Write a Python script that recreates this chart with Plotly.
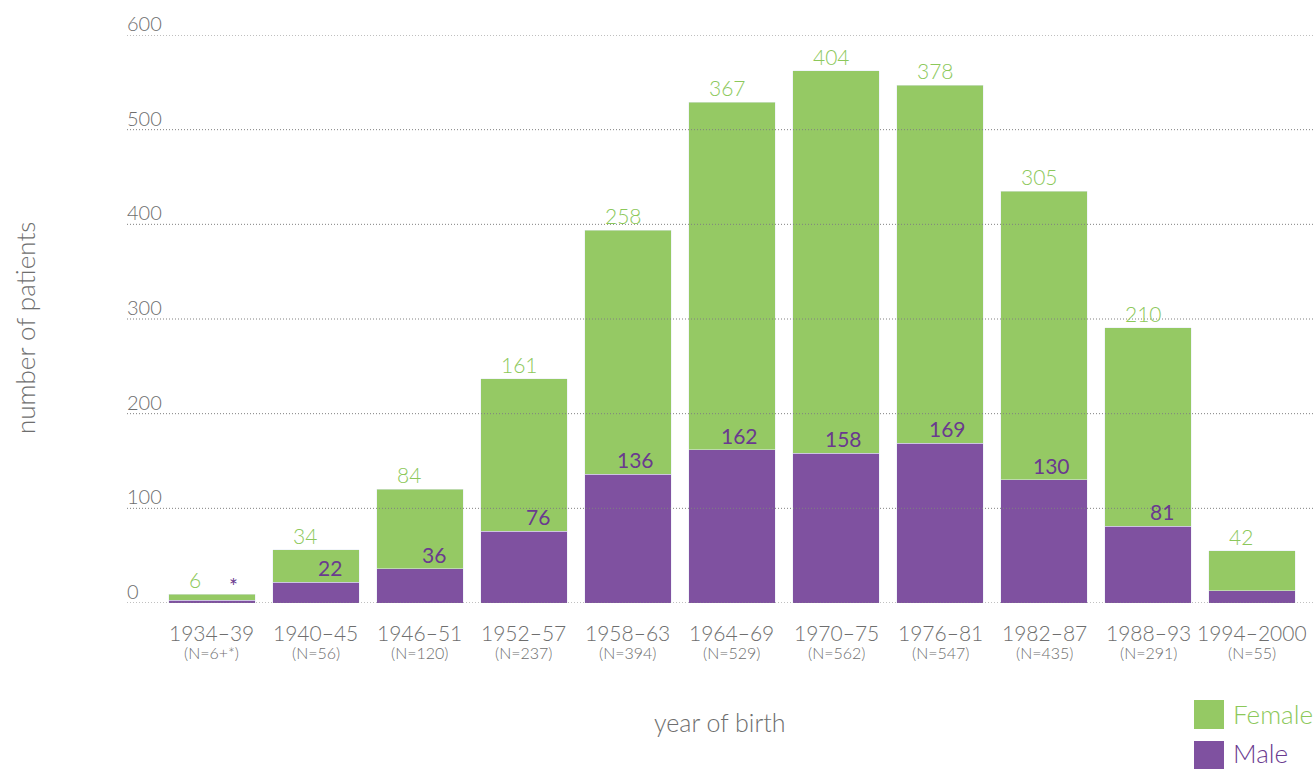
import plotly.graph_objects as go

# Birth-cohort categories and patient counts
cohorts = ["1934–39", "1940–45", "1946–51", "1952–57", "1958–63", "1964–69",
           "1970–75", "1976–81", "1982–87", "1988–93", "1994–2000"]
cohort_n = ["(N=6+*)", "(N=56)", "(N=120)", "(N=237)", "(N=394)", "(N=529)",
            "(N=562)", "(N=547)", "(N=435)", "(N=291)", "(N=55)"]
male = [3, 22, 36, 76, 136, 162, 158, 169, 130, 81, 13]
female = [6, 34, 84, 161, 258, 367, 404, 378, 305, 210, 42]
male_labels = ["*", "22", "36", "76", "136", "162", "158", "169", "130", "81", ""]
female_labels = [str(v) for v in female]
y_ticks = [0, 100, 200, 300, 400, 500, 600]

GREEN = "#95c964"
PURPLE = "#7f51a0"
GREEN_TXT = "#8cc85a"
PURPLE_TXT = "#6a3a8f"
GREY_TXT = "#6e6e6e"
FONT = "Lato"

W, H = 1314, 769
M_L, M_R, M_T, M_B = 127, 0, 35, 166
PLOT_W = W - M_L - M_R
PLOT_H = H - M_T - M_B


def px_x(px):
    """Pixel column -> paper x (paper spans the plot area)."""
    return (px - M_L) / PLOT_W


def px_y(py):
    """Pixel row (from top) -> paper y."""
    return (H - M_B - py) / PLOT_H


x_idx = list(range(len(cohorts)))
totals = [m + f for m, f in zip(male, female)]

fig = go.Figure()
fig.add_trace(go.Bar(x=x_idx, y=male, name="Male", marker_color=PURPLE,
                     width=0.83, showlegend=False))
fig.add_trace(go.Bar(x=x_idx, y=female, name="Female", marker_color=GREEN,
                     width=0.83, showlegend=False))

annotations = []
# value labels: female count above each stack, male count above the purple segment
for i in x_idx:
    annotations.append(dict(x=i, y=totals[i], xref="x", yref="y", text=female_labels[i],
                            showarrow=False, xanchor="left", yanchor="bottom",
                            xshift=-25, yshift=0,
                            font=dict(family=FONT, size=21, color=GREEN_TXT, weight=300)))
    if male_labels[i]:
        annotations.append(dict(x=i, y=male[i], xref="x", yref="y", text=male_labels[i],
                                showarrow=False, xanchor="right", yanchor="bottom",
                                xshift=28, yshift=0,
                                font=dict(family=FONT, size=21, color=PURPLE_TXT, weight=400)))
    # category labels under the axis: cohort on one line, sample size below it
    annotations.append(dict(x=i, y=0, xref="x", yref="paper", text=cohorts[i],
                            showarrow=False, xanchor="center", yanchor="top", yshift=-17,
                            height=21, valign="middle",
                            font=dict(family=FONT, size=21, color=GREY_TXT, weight=300)))
    annotations.append(dict(x=i, y=0, xref="x", yref="paper", text=cohort_n[i],
                            showarrow=False, xanchor="center", yanchor="top", yshift=-38,
                            height=18, valign="middle",
                            font=dict(family=FONT, size=16, color=GREY_TXT, weight=300)))

# y tick labels sit on top of their gridlines at the left edge
for t in y_ticks:
    annotations.append(dict(x=0, y=t, xref="paper", yref="y", text=str(t),
                            showarrow=False, xanchor="left", yanchor="bottom", yshift=-2,
                            xshift=-2,
                            font=dict(family=FONT, size=20, color=GREY_TXT, weight=300)))

# axis titles
annotations.append(dict(x=px_x(720), y=px_y(722), xref="paper", yref="paper",
                        text="year of birth", showarrow=False, xanchor="center",
                        yanchor="middle",
                        font=dict(family=FONT, size=25, color=GREY_TXT, weight=300)))
annotations.append(dict(x=px_x(25), y=px_y(328), xref="paper", yref="paper",
                        text="number of patients", showarrow=False, textangle=-90,
                        xanchor="center", yanchor="middle",
                        font=dict(family=FONT, size=26, color=GREY_TXT, weight=300)))

shapes = []
# dotted gridlines drawn over the bars
for t in y_ticks:
    shapes.append(dict(type="line", xref="paper", yref="y", x0=0, x1=1, y0=t, y1=t,
                       layer="above", line=dict(color="#808080", width=1, dash="1px,2px")))

# legend swatches at the bottom right
legend_items = [("Female", GREEN, GREEN_TXT, 700, 714), ("Male", PURPLE, PURPLE_TXT, 741, 753)]
for name, fill, txt, top, mid in legend_items:
    shapes.append(dict(type="rect", xref="paper", yref="paper",
                       x0=px_x(1194), x1=px_x(1224),
                       y0=px_y(top + 29), y1=px_y(top),
                       fillcolor=fill, line=dict(width=0)))
    annotations.append(dict(x=px_x(1231), y=px_y(mid), xref="paper",
                            yref="paper", text=name, showarrow=False, xanchor="left",
                            yanchor="middle", height=24, valign="middle",
                            font=dict(family=FONT, size=26, color=txt, weight=300)))

fig.update_layout(
    width=W, height=H,
    margin=dict(l=M_L, r=M_R, t=M_T, b=M_B),
    barmode="stack",
    plot_bgcolor="white", paper_bgcolor="white",
    xaxis=dict(range=[-0.817, 10.596], showticklabels=False, showgrid=False,
               zeroline=False, showline=False, ticks=""),
    yaxis=dict(range=[0, 600], showticklabels=False, showgrid=False,
               zeroline=False, showline=False, ticks=""),
    annotations=annotations,
    shapes=shapes,
)

fig.write_html("out.html")
